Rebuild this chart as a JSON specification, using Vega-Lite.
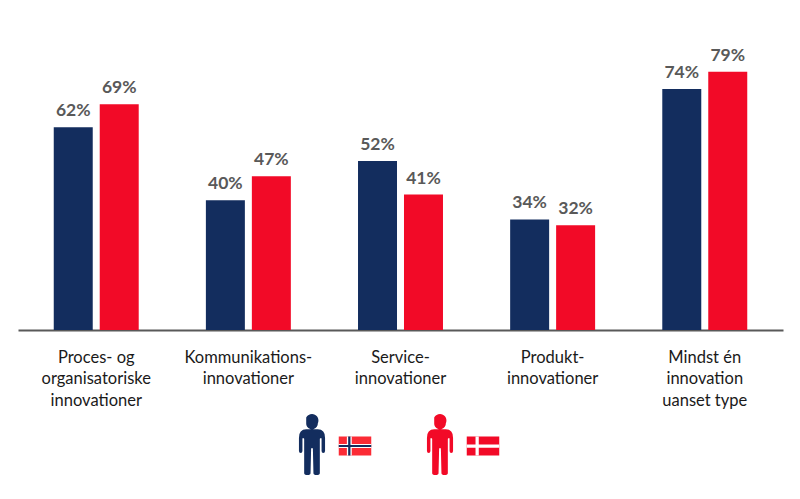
{"$schema":"https://vega.github.io/schema/vega-lite/v6.json","width":765,"height":330,"padding":{"left":18,"top":0,"right":17,"bottom":169},"autosize":{"type":"none"},"background":"white","config":{"view":{"stroke":null},"font":"Lato"},"layer":[{"data":{"values":[{"kategori":"Proces- og|organisatoriske|innovationer","land":"Norge","andel":0.62},{"kategori":"Proces- og|organisatoriske|innovationer","land":"Danmark","andel":0.69},{"kategori":"Kommunikations-|innovationer","land":"Norge","andel":0.397},{"kategori":"Kommunikations-|innovationer","land":"Danmark","andel":0.47},{"kategori":"Service-|innovationer","land":"Norge","andel":0.517},{"kategori":"Service-|innovationer","land":"Danmark","andel":0.414},{"kategori":"Produkt-|innovationer","land":"Norge","andel":0.338},{"kategori":"Produkt-|innovationer","land":"Danmark","andel":0.32},{"kategori":"Mindst én|innovation|uanset type","land":"Norge","andel":0.737},{"kategori":"Mindst én|innovation|uanset type","land":"Danmark","andel":0.79}]},"encoding":{"x":{"field":"kategori","type":"nominal","sort":null,"scale":{"paddingInner":0.4415,"paddingOuter":0.235},"axis":{"title":null,"ticks":false,"labelAngle":0,"labelExpr":"split(datum.label,'|')","labelFont":"Lato","labelFontSize":16.5,"labelColor":"#1a1a1a","labelLineHeight":21.5,"labelPadding":19,"labelBaseline":"top","domainColor":"#595959","domainWidth":2}},"xOffset":{"field":"land","type":"nominal","sort":["Norge","Danmark"],"scale":{"paddingInner":0.152,"paddingOuter":0}},"y":{"field":"andel","type":"quantitative","scale":{"domain":[0,1.009],"nice":false},"axis":null}},"layer":[{"mark":{"type":"bar","cornerRadius":0},"encoding":{"color":{"field":"land","type":"nominal","scale":{"domain":["Norge","Danmark"],"range":["#132D5E","#F20A27"]},"legend":null}}},{"mark":{"type":"text","baseline":"bottom","dy":-7,"font":"Lato","fontSize":17.5,"fontWeight":"bold","color":"#595959"},"encoding":{"text":{"field":"andel","type":"quantitative","format":".0%"}}}]},{"data":{"values":[{"land":"Norge","ikon":"mand","del":"mand Norge","række":"ikoner"},{"land":"Danmark","ikon":"mand","del":"mand Danmark","række":"ikoner"},{"land":"Norge","ikon":"flag","del":"flag Norge","række":"ikoner"},{"land":"Norge","ikon":"flag","del":"kors hvid Norge","række":"ikoner"},{"land":"Norge","ikon":"flag","del":"kors blå Norge","række":"ikoner"},{"land":"Danmark","ikon":"flag","del":"flag Danmark","række":"ikoner"},{"land":"Danmark","ikon":"flag","del":"kors hvid Danmark","række":"ikoner"}]},"mark":{"type":"point","filled":true,"opacity":1,"strokeWidth":0,"clip":false},"encoding":{"x":{"field":"land","type":"nominal","scale":{"type":"point","domain":["Norge","Danmark"],"range":[294,422],"padding":0},"axis":null},"xOffset":{"field":"ikon","type":"nominal","scale":{"type":"point","domain":["mand","flag"],"range":[0,43],"padding":0}},"y":{"field":"række","type":"nominal","scale":{"type":"point","domain":["ikoner"],"range":[446,446],"padding":0},"axis":null},"color":{"field":"del","type":"nominal","legend":null,"scale":{"domain":["mand Norge","mand Danmark","flag Norge","kors hvid Norge","kors blå Norge","flag Danmark","kors hvid Danmark"],"range":["#132D5E","#F20A27","#FB2B35","#FFFFFF","#132D5E","#F20A27","#FFFFFF"]}},"size":{"field":"del","type":"nominal","legend":null,"scale":{"type":"ordinal","domain":["mand Norge","mand Danmark","flag Norge","kors hvid Norge","kors blå Norge","flag Danmark","kors hvid Danmark"],"range":[3364,3364,1056,1056,1056,1056,1056]}},"shape":{"field":"del","type":"nominal","legend":null,"scale":{"domain":["mand Norge","mand Danmark","flag Norge","kors hvid Norge","kors blå Norge","flag Danmark","kors hvid Danmark"],"range":["M-.2,-.98A.2,.2 0 1,1 .2,-.78A.2,.2 0 1,1 -.2,-.78Z M-.2,-.575L.2,-.575Q.45,-.575 .45,-.28L.45,.17Q.45,.24 .39,.24Q.33,.24 .33,.17L.33,-.25Q.32,-.3 .27,-.25L.27,.93Q.27,1 .16,1Q.05,1 .05,.93L.03,.08L-.03,.08L-.05,.93Q-.05,1 -.16,1Q-.27,1 -.27,.93L-.27,-.25Q-.32,-.3 -.33,-.25L-.33,.17Q-.33,.24 -.39,.24Q-.45,.24 -.45,.17L-.45,-.28Q-.45,-.575 -.2,-.575Z","M-.2,-.98A.2,.2 0 1,1 .2,-.78A.2,.2 0 1,1 -.2,-.78Z M-.2,-.575L.2,-.575Q.45,-.575 .45,-.28L.45,.17Q.45,.24 .39,.24Q.33,.24 .33,.17L.33,-.25Q.32,-.3 .27,-.25L.27,.93Q.27,1 .16,1Q.05,1 .05,.93L.03,.08L-.03,.08L-.05,.93Q-.05,1 -.16,1Q-.27,1 -.27,.93L-.27,-.25Q-.32,-.3 -.33,-.25L-.33,.17Q-.33,.24 -.39,.24Q-.45,.24 -.45,.17L-.45,-.28Q-.45,-.575 -.2,-.575Z","M-1,-.585L1,-.585L1,.585L-1,.585Z","M-.5,-.585L-.2,-.585L-.2,-.13L1,-.13L1,.13L-.2,.13L-.2,.585L-.5,.585L-.5,.13L-1,.13L-1,-.13L-.5,-.13Z","M-.42,-.585L-.28,-.585L-.28,-.06L1,-.06L1,.06L-.28,.06L-.28,.585L-.42,.585L-.42,.06L-1,.06L-1,-.06L-.42,-.06Z","M-1,-.585L1,-.585L1,.585L-1,.585Z","M-.46,-.585L-.26,-.585L-.26,-.1L1,-.1L1,.1L-.26,.1L-.26,.585L-.46,.585L-.46,.1L-1,.1L-1,-.1L-.46,-.1Z"]}}}}],"resolve":{"scale":{"x":"independent","y":"independent","xOffset":"independent","color":"independent"}}}
